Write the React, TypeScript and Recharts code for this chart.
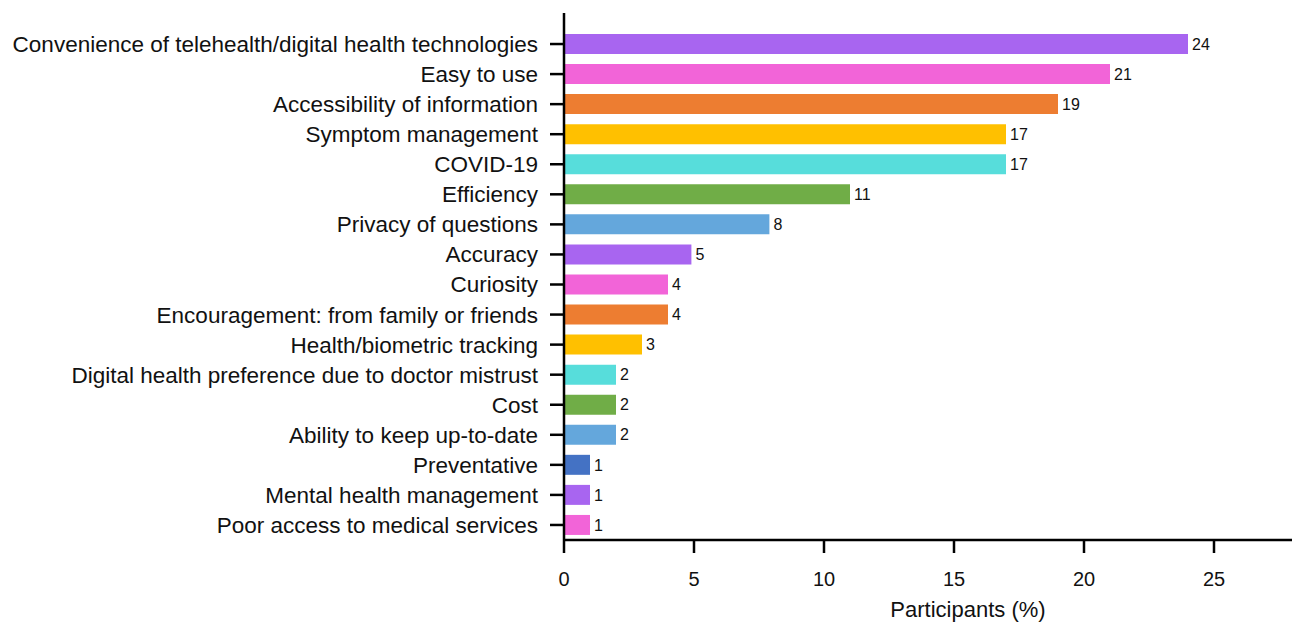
import React from 'react';
import { BarChart, Bar, XAxis, YAxis, Cell, LabelList } from 'recharts';

// reasons for using telehealth / digital health, % of participants
const reasons = [
  'Convenience of telehealth/digital health technologies',
  'Easy to use',
  'Accessibility of information',
  'Symptom management',
  'COVID-19',
  'Efficiency',
  'Privacy of questions',
  'Accuracy',
  'Curiosity',
  'Encouragement: from family or friends',
  'Health/biometric tracking',
  'Digital health preference due to doctor mistrust',
  'Cost',
  'Ability to keep up-to-date',
  'Preventative',
  'Mental health management',
  'Poor access to medical services',
];

const participants = [24, 21, 19, 17, 17, 11, 7.9, 4.9, 4, 4, 3, 2, 2, 2, 1, 1, 1];

const barColors = [
  '#A865F0', '#F264D8', '#ED7D31', '#FFC000', '#57DDDB', '#70AD47', '#64A7DC',
  '#A865F0', '#F264D8', '#ED7D31', '#FFC000', '#57DDDB', '#70AD47', '#64A7DC',
  '#4472C4', '#A865F0', '#F264D8',
];

const xTicks = [0, 5, 10, 15, 20, 25];

const data = reasons.map((name, i) => ({ name, value: participants[i] }));

const FONT = '"Liberation Sans", Arial, sans-serif';

const AxisLabel = (props: any) => {
  const { viewBox } = props;
  const x = viewBox.x + viewBox.width / 2 + 40;
  return (
    <text x={x} y={617} textAnchor="middle" fontSize={22} fontFamily={FONT} fill="#111">
      Participants (%)
    </text>
  );
};

const App: React.FC = () => {
  return (
    <div style={{ position: 'absolute', left: 0, top: 0, background: '#fff' }}>
      <BarChart
        width={1295}
        height={629}
        data={data}
        layout="vertical"
        margin={{ top: 13, right: 3, left: 0, bottom: 0 }}
      >
        <XAxis
          type="number"
          domain={[0, 28]}
          ticks={xTicks}
          allowDataOverflow
          height={89}
          axisLine={{ stroke: '#000', strokeWidth: 2.5 }}
          tickLine={{ stroke: '#000', strokeWidth: 2.5 }}
          tickSize={13}
          tickMargin={19}
          tick={{ fontSize: 20, fontFamily: FONT, fill: '#111' }}
          label={<AxisLabel />}
        />
        <YAxis
          type="category"
          dataKey="name"
          width={564}
          padding={{ top: 16, bottom: 0 }}
          axisLine={{ stroke: '#000', strokeWidth: 2.5 }}
          tickLine={{ stroke: '#000', strokeWidth: 2.5 }}
          tickSize={14}
          tickMargin={12}
          interval={0}
          tick={{ fontSize: 22.5, fontFamily: FONT, fill: '#111' }}
        />
        <Bar dataKey="value" barSize={20} isAnimationActive={false}>
          {data.map((d, i) => (
            <Cell key={d.name} fill={barColors[i]} />
          ))}
          <LabelList
            dataKey="value"
            position="right"
            offset={4}
            formatter={(v: any) => Math.round(Number(v))}
            style={{ fontSize: 16, fontFamily: FONT, fill: '#111' }}
          />
        </Bar>
      </BarChart>
    </div>
  );
};

export default App;
